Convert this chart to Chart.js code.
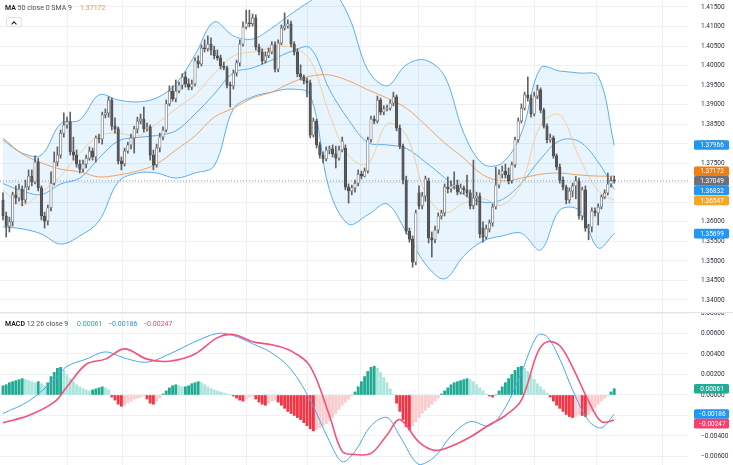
<!DOCTYPE html>
<html><head><meta charset="utf-8">
<script src="https://cdn.jsdelivr.net/npm/chart.js@4.4.1/dist/chart.umd.min.js"></script>
<style>
html,body{margin:0;padding:0;background:#fff;}
#wrap{position:relative;width:733px;height:465px;overflow:hidden;font-family:Roboto,"Open Sans",sans-serif;}
canvas{position:absolute;left:0;}
#c1{top:0;}
#c2{top:313px;}
#sep{position:absolute;left:0;top:312px;width:733px;height:1px;background:#e0e3eb;}
.leg{position:absolute;font-size:7px;line-height:9px;white-space:nowrap;color:#131722;}
.g{color:#4a4e59;}
#btn{position:absolute;left:6px;top:17px;width:14px;height:8px;border:1px solid #e0e3eb;border-radius:2px;background:#fff;}
#btn i{position:absolute;left:5px;top:3.5px;width:3px;height:3px;border-left:1px solid #131722;border-top:1px solid #131722;transform:rotate(45deg);}
</style></head>
<body><div id="wrap">
<canvas id="c1" width="733" height="313"></canvas>
<canvas id="c2" width="733" height="152"></canvas>
<div id="sep"></div>
<div class="leg" style="left:5px;top:3.5px;"><b style="font-weight:600">MA</b> <span class="g">50 close 0 SMA 9</span></div>
<div class="leg" style="left:80px;top:3.5px;color:#f59a2f;">1.37172</div>
<div id="btn"><i></i></div>
<div class="leg" style="left:5px;top:319.5px;"><b style="font-weight:600">MACD</b> <span class="g">12 26 close 9</span></div>
<div class="leg" style="left:77px;top:319.5px;color:#22ab94;">0.00061</div>
<div class="leg" style="left:108px;top:319.5px;color:#2196f3;">−0.00186</div>
<div class="leg" style="left:143px;top:319.5px;color:#f7406e;">−0.00247</div>
</div>
<script>
// ---------- candles (192 bars) ----------
const open = [1.3656,1.3615,1.3589,1.3600,1.3669,1.3661,1.3684,1.3656,1.3689,1.3717,
1.3702,1.3753,1.3687,1.3615,1.3602,1.3636,1.3699,1.3753,1.3771,1.3827,
1.3848,1.3856,1.3779,1.3771,1.3748,1.3735,1.3748,1.3763,1.3781,1.3766,
1.3815,1.3812,1.3874,1.3879,1.3912,1.3845,1.3838,1.3756,1.3748,1.3781,
1.3797,1.3815,1.3838,1.3858,1.3863,1.3838,1.3843,1.3771,1.3746,1.3789,
1.3817,1.3835,1.3902,1.3935,1.3915,1.3935,1.3950,1.3971,1.3953,1.3945,
1.3953,1.4012,1.4004,1.4045,1.4043,1.4055,1.4040,1.4025,1.4020,1.3999,
1.3994,1.3950,1.3948,1.3981,1.4007,1.4055,1.4099,1.4109,1.4107,1.4122,
1.4048,1.4035,1.4012,1.4025,1.4035,1.4053,1.3991,1.4058,1.4096,1.4101,
1.4107,1.4055,1.4035,1.3979,1.3971,1.3961,1.3956,1.3822,1.3858,1.3797,
1.3771,1.3761,1.3784,1.3787,1.3774,1.3763,1.3784,1.3789,1.3689,1.3679,
1.3687,1.3699,1.3722,1.3717,1.3730,1.3810,1.3863,1.3858,1.3912,1.3881,
1.3889,1.3891,1.3904,1.3920,1.3840,1.3794,1.3707,1.3576,1.3556,1.3497,
1.3674,1.3641,1.3666,1.3705,1.3559,1.3554,1.3579,1.3615,1.3623,1.3689,
1.3684,1.3692,1.3694,1.3676,1.3687,1.3682,1.3674,1.3641,1.3661,1.3666,
1.3584,1.3561,1.3582,1.3597,1.3638,1.3694,1.3722,1.3730,1.3720,1.3705,
1.3746,1.3810,1.3858,1.3891,1.3925,1.3917,1.3876,1.3922,1.3938,1.3886,
1.3845,1.3810,1.3815,1.3769,1.3740,1.3707,1.3689,1.3656,1.3679,1.3692,
1.3705,1.3615,1.3682,1.3584,1.3587,1.3628,1.3623,1.3638,1.3664,1.3674,1.3697,1.3705];
const close = [1.3615,1.3589,1.3600,1.3669,1.3661,1.3684,1.3656,1.3689,1.3717,1.3702,
1.3753,1.3687,1.3615,1.3602,1.3636,1.3699,1.3753,1.3771,1.3827,1.3848,
1.3856,1.3779,1.3771,1.3748,1.3735,1.3748,1.3763,1.3781,1.3766,1.3815,
1.3812,1.3874,1.3879,1.3912,1.3845,1.3838,1.3756,1.3748,1.3781,1.3797,
1.3815,1.3838,1.3858,1.3863,1.3838,1.3843,1.3771,1.3746,1.3789,1.3817,
1.3835,1.3902,1.3935,1.3915,1.3935,1.3950,1.3971,1.3953,1.3945,1.3953,
1.4012,1.4004,1.4045,1.4043,1.4055,1.4040,1.4025,1.4020,1.3999,1.3994,
1.3950,1.3948,1.3981,1.4007,1.4055,1.4099,1.4109,1.4107,1.4122,1.4048,
1.4035,1.4012,1.4025,1.4035,1.4053,1.3991,1.4058,1.4096,1.4101,1.4107,
1.4055,1.4035,1.3979,1.3971,1.3961,1.3956,1.3822,1.3858,1.3797,1.3771,
1.3761,1.3784,1.3787,1.3774,1.3763,1.3784,1.3807,1.3689,1.3679,1.3687,
1.3699,1.3722,1.3717,1.3730,1.3810,1.3863,1.3858,1.3912,1.3881,1.3889,
1.3891,1.3904,1.3920,1.3840,1.3794,1.3707,1.3576,1.3556,1.3497,1.3623,
1.3641,1.3666,1.3710,1.3559,1.3554,1.3579,1.3615,1.3623,1.3689,1.3684,
1.3692,1.3694,1.3676,1.3687,1.3682,1.3674,1.3641,1.3661,1.3666,1.3569,
1.3561,1.3582,1.3597,1.3638,1.3694,1.3722,1.3730,1.3720,1.3705,1.3746,
1.3810,1.3858,1.3891,1.3925,1.3917,1.3876,1.3922,1.3938,1.3886,1.3845,
1.3810,1.3815,1.3769,1.3740,1.3707,1.3689,1.3656,1.3679,1.3692,1.3705,
1.3615,1.3682,1.3584,1.3587,1.3628,1.3623,1.3638,1.3664,1.3674,1.3697,1.3705,1.37049];
const high = [1.3674,1.3625,1.3612,1.3676,1.3692,1.3697,1.3692,1.3707,1.3733,1.3733,
1.3769,1.3763,1.3692,1.3625,1.3643,1.3728,1.3779,1.3792,1.3835,1.3879,
1.3868,1.3881,1.3817,1.3784,1.3758,1.3758,1.3771,1.3792,1.3789,1.3820,
1.3825,1.3881,1.3889,1.3920,1.3917,1.3866,1.3843,1.3766,1.3789,1.3804,
1.3825,1.3845,1.3868,1.3876,1.3894,1.3853,1.3848,1.3784,1.3799,1.3827,
1.3843,1.3912,1.3948,1.3948,1.3963,1.3958,1.3979,1.3984,1.3966,1.3963,
1.4020,1.4025,1.4053,1.4066,1.4076,1.4071,1.4050,1.4040,1.4027,1.4009,
1.3999,1.3958,1.3989,1.4014,1.4066,1.4112,1.4142,1.4142,1.4132,1.4130,
1.4055,1.4043,1.4035,1.4045,1.4061,1.4061,1.4066,1.4104,1.4135,1.4117,
1.4114,1.4061,1.4043,1.4002,1.3976,1.3968,1.3963,1.3866,1.3863,1.3804,
1.3779,1.3792,1.3794,1.3797,1.3794,1.3794,1.3817,1.3797,1.3697,1.3694,
1.3707,1.3733,1.3730,1.3738,1.3817,1.3871,1.3871,1.3922,1.3917,1.3897,
1.3899,1.3912,1.3932,1.3925,1.3848,1.3799,1.3717,1.3584,1.3564,1.3630,
1.3692,1.3676,1.3717,1.3712,1.3574,1.3589,1.3623,1.3630,1.3697,1.3715,
1.3705,1.3728,1.3707,1.3697,1.3692,1.3720,1.3682,1.3758,1.3676,1.3674,
1.3600,1.3592,1.3605,1.3646,1.3740,1.3733,1.3743,1.3748,1.3738,1.3753,
1.3817,1.3866,1.3902,1.3932,1.3971,1.3925,1.3932,1.3950,1.3943,1.3891,
1.3851,1.3825,1.3820,1.3774,1.3748,1.3715,1.3694,1.3687,1.3699,1.3717,
1.3712,1.3689,1.3692,1.3594,1.3636,1.3636,1.3646,1.3669,1.3682,1.3725,1.3715,1.3717];
const low = [1.3605,1.3561,1.3574,1.3589,1.3646,1.3653,1.3641,1.3648,1.3682,1.3692,
1.3697,1.3679,1.3605,1.3584,1.3592,1.3628,1.3694,1.3743,1.3763,1.3817,
1.3840,1.3771,1.3758,1.3740,1.3725,1.3728,1.3738,1.3758,1.3758,1.3753,
1.3802,1.3799,1.3866,1.3868,1.3835,1.3827,1.3748,1.3733,1.3743,1.3776,
1.3787,1.3776,1.3827,1.3851,1.3830,1.3833,1.3758,1.3733,1.3740,1.3779,
1.3810,1.3830,1.3897,1.3909,1.3907,1.3930,1.3940,1.3945,1.3938,1.3938,
1.3948,1.3994,1.3999,1.4035,1.4037,1.4027,1.4017,1.4014,1.3991,1.3989,
1.3943,1.3894,1.3940,1.3973,1.3999,1.4050,1.4094,1.4099,1.4101,1.4040,
1.4027,1.4004,1.4007,1.4020,1.4030,1.3984,1.3984,1.4053,1.4091,1.4096,
1.4048,1.4027,1.3971,1.3963,1.3953,1.3920,1.3815,1.3817,1.3789,1.3763,
1.3751,1.3756,1.3774,1.3766,1.3738,1.3758,1.3779,1.3682,1.3648,1.3669,
1.3676,1.3692,1.3710,1.3715,1.3725,1.3804,1.3851,1.3853,1.3874,1.3874,
1.3884,1.3886,1.3897,1.3833,1.3787,1.3697,1.3569,1.3548,1.3484,1.3490,
1.3633,1.3633,1.3653,1.3546,1.3510,1.3546,1.3571,1.3607,1.3615,1.3674,
1.3676,1.3684,1.3669,1.3671,1.3671,1.3664,1.3633,1.3633,1.3643,1.3559,
1.3548,1.3556,1.3574,1.3589,1.3633,1.3687,1.3712,1.3712,1.3697,1.3699,
1.3740,1.3804,1.3853,1.3886,1.3909,1.3868,1.3871,1.3915,1.3879,1.3840,
1.3802,1.3804,1.3763,1.3733,1.3699,1.3682,1.3646,1.3648,1.3664,1.3659,
1.3607,1.3605,1.3576,1.3554,1.3574,1.3615,1.3592,1.3633,1.3659,1.3669,1.3689,1.3699];

// ---------- overlay lines, sampled at these bar indices ----------
const lineIdx = [0,6,12,18,24,30,36,42,48,54,60,66,72,78,84,90,96,102,108,114,120,126,132,138,144,150,156,162,168,174,180,186,191];
const bbUpper = [1.3810,1.3776,1.3771,1.3851,1.3861,1.3925,1.3912,1.3907,1.3917,1.3953,1.4027,1.4112,1.4076,1.4068,1.4096,1.4132,1.4165,1.4196,1.4127,1.3989,1.3948,1.4002,1.4014,1.3973,1.3827,1.3748,1.3751,1.3827,1.3994,1.3986,1.3981,1.3973,1.37966];
const bbBasis = [1.3698,1.3679,1.3670,1.3697,1.3712,1.3763,1.3807,1.3816,1.3821,1.3833,1.3876,1.3927,1.3982,1.3994,1.4014,1.4036,1.4045,1.3939,1.3861,1.3803,1.3797,1.3788,1.3753,1.3713,1.3670,1.3650,1.3657,1.3699,1.3761,1.3808,1.3806,1.3753,1.36832];
const bbLower = [1.3587,1.3582,1.3569,1.3543,1.3564,1.3602,1.3702,1.3725,1.3725,1.3712,1.3725,1.3743,1.3889,1.3920,1.3932,1.3940,1.3925,1.3682,1.3594,1.3618,1.3646,1.3574,1.3492,1.3454,1.3513,1.3551,1.3564,1.3571,1.3528,1.3630,1.3630,1.3533,1.35699];
const ma50 = [1.3815,1.3774,1.3751,1.3735,1.3728,1.3715,1.3720,1.3730,1.3748,1.3784,1.3820,1.3868,1.3891,1.3917,1.3932,1.3956,1.3973,1.3976,1.3961,1.3938,1.3917,1.3891,1.3848,1.3802,1.3763,1.3720,1.3705,1.3712,1.3722,1.3725,1.3720,1.3717,1.37172];
const maFast = [1.3682,1.3643,1.3676,1.3717,1.3776,1.3820,1.3827,1.3820,1.3851,1.3889,1.3925,1.3979,1.4025,1.4035,1.4045,1.4048,1.4014,1.3876,1.3769,1.3748,1.3851,1.3822,1.3674,1.3623,1.3648,1.3659,1.3643,1.3697,1.3848,1.3874,1.3766,1.3679,1.36547];

// ---------- MACD ----------
const hist = [0.0009,0.0010,0.0012,0.0013,0.0014,0.0015,
0.0016,0.0015,0.0014,0.0013,0.0012,0.0013,0.0011,
0.0009,0.0012,0.0018,0.0022,
0.0026,0.0027,0.0024,0.0020,
0.0016,0.0013,0.0010,0.0008,0.0006,0.0005,
0.0004,0.0005,0.0006,0.0007,0.0008,0.0007,0.0005,
-0.0002,-0.0005,-0.0009,-0.0011,-0.0010,-0.0008,-0.0006,
-0.0004,-0.0003,-0.0002,-0.0001,-0.0004,-0.0008,-0.0009,
-0.0006,-0.0003,0.0001,0.0004,0.0007,
0.0009,0.0010,0.0009,0.0008,0.0008,0.0009,0.0011,0.0012,
0.0013,0.0012,0.0010,0.0008,0.0006,0.0005,
0.0004,0.0003,0.0002,0.0001,0.0000,-0.0001,
-0.0003,-0.0005,-0.0006,-0.0004,-0.0002,-0.0001,
-0.0004,-0.0007,-0.0009,-0.0010,-0.0008,-0.0006,
-0.0005,-0.0007,-0.0010,-0.0013,-0.0016,-0.0018,
-0.0020,-0.0022,-0.0024,-0.0027,-0.0030,-0.0033,-0.0035,-0.0034,
-0.0032,-0.0030,-0.0028,-0.0025,-0.0022,-0.0018,-0.0014,
-0.0010,-0.0007,-0.0004,-0.0001,0.0003,
0.0008,0.0013,0.0018,0.0023,0.0027,0.0028,0.0026,0.0022,
0.0017,0.0012,0.0006,0.0000,-0.0008,
-0.0016,-0.0024,-0.0031,-0.0034,-0.0030,-0.0026,
-0.0022,-0.0018,-0.0015,-0.0012,-0.0009,-0.0006,-0.0003,
0.0001,0.0004,0.0007,0.0010,0.0012,0.0013,0.0014,0.0015,0.0016,
0.0015,0.0013,0.0010,0.0007,0.0004,
0.0001,-0.0001,-0.0002,0.0000,
0.0004,0.0008,0.0012,0.0016,0.0020,0.0024,
0.0027,0.0028,0.0026,0.0023,
0.0019,0.0015,0.0011,0.0008,0.0005,0.0002,
-0.0002,-0.0006,-0.0010,-0.0013,-0.0016,-0.0019,
-0.0021,-0.0022,-0.0021,-0.0019,-0.0020,
-0.0021,-0.0019,-0.0016,-0.0012,-0.0009,
-0.0006,-0.0003,-0.0001,0.0003,0.00061];
const macdIdx = [0,8,16,20,26,32,38,45,52,60,67,72,78,84,90,96,102,106,110,115,120,124,130,135,140,146,152,157,162,167,170,174,178,183,187,191];
const macdLine = [-0.0018,-0.0006,0.0015,0.0028,0.0035,0.0042,0.0036,0.0032,0.0040,0.0052,0.0060,0.0058,0.0050,0.0041,0.0025,-0.0005,-0.0045,-0.0065,-0.0055,-0.0030,-0.0022,-0.0040,-0.0068,-0.0060,-0.0040,-0.0026,-0.0030,-0.0012,0.0022,0.0058,0.0057,0.0035,0.0005,-0.0025,-0.0032,-0.00186];
const signalLine = [-0.0027,-0.0020,-0.0007,0.0008,0.0030,0.0035,0.0045,0.0035,0.0033,0.0040,0.0056,0.0059,0.0052,0.0049,0.0043,0.0028,-0.0020,-0.0055,-0.0058,-0.0057,-0.0039,-0.0024,-0.0046,-0.0054,-0.0050,-0.0041,-0.0029,-0.0020,-0.0005,0.0041,0.0052,0.0048,0.0027,-0.0006,-0.0026,-0.00247];

// ---------- axis ticks ----------
const priceTicks = [1.340,1.345,1.350,1.355,1.360,1.365,1.370,1.375,1.380,1.385,1.390,1.395,1.400,1.405,1.410,1.415];
const macdTicks = [-0.006,-0.004,-0.002,0,0.002,0.004,0.006,0.008];
const timeGrid = [20,37.3,57,76.2,95,111.6,129.7,147.5,166,185.6,206];

const last = close.length - 1;
const priceTags = [
  {v: bbUpper[bbUpper.length-1], c:'#2196f3'},
  {v: ma50[ma50.length-1], c:'#ef7d12'},
  {v: close[last], c:'#6d707b', anchor:true},
  {v: bbBasis[bbBasis.length-1], c:'#2196f3'},
  {v: maFast[maFast.length-1], c:'#f6a623'},
  {v: bbLower[bbLower.length-1], c:'#2196f3'}
];
const macdTags = [
  {v: hist[last], c:'#22ab94'},
  {v: macdLine[macdLine.length-1], c:'#2196f3', anchor:true},
  {v: signalLine[signalLine.length-1], c:'#f7406e'}
];

const FONT = 'Roboto, "Open Sans", sans-serif';
const XMIN = -0.94, XMAX = 214.06, AXW = 45;
const fmt = v => (v<0?'\u2212':'') + Math.abs(v).toFixed(5);

function tagPlugin(tags){
  return {id:'tags', afterDraw(chart){
    const ctx = chart.ctx, ys = chart.scales.y, h = 9.6;
    const items = tags.map(t=>({...t, py: ys.getPixelForValue(t.v)})).sort((a,b)=>a.py-b.py);
    let ai = items.findIndex(t=>t.anchor);
    for (let k=ai-1;k>=0;k--) if (items[k+1].py-items[k].py<h) items[k].py = items[k+1].py-h;
    for (let k=ai+1;k<items.length;k++) if (items[k].py-items[k-1].py<h) items[k].py = items[k-1].py+h;
    ctx.save();
    items.forEach(t=>{
      ctx.fillStyle = t.c;
      ctx.beginPath();
      ctx.roundRect(694, t.py-h/2, 35, h, 1.5);
      ctx.fill();
      ctx.fillStyle = '#fff';
      ctx.font = '6.5px '+FONT;
      ctx.textAlign = 'center'; ctx.textBaseline = 'middle';
      ctx.fillText(fmt(t.v), 712, t.py+0.5);
    });
    ctx.restore();
  }};
}

function xScale(){
  return {type:'linear', min:XMIN, max:XMAX, offset:false,
    grid:{color:'#eef0f4', drawTicks:false, offset:false, lineWidth:1},
    border:{display:false}, ticks:{display:false},
    afterBuildTicks: s => { s.ticks = timeGrid.map(v=>({value:v})); },
    afterFit: s => { s.height = 0; s.paddingLeft = 0; s.paddingRight = 0; s.paddingTop=0; s.paddingBottom=0; }};
}
function yScale(min,max,ticks,fmtf){
  return {type:'linear', position:'right', min, max,
    grid:{color:'#eef0f4', drawTicks:false, lineWidth:1},
    border:{display:false},
    ticks:{padding:13, color:'#2a2e39', font:{size:6.5, family:FONT}, callback: v => fmtf(v)},
    afterBuildTicks: s => { s.ticks = ticks.map(v=>({value:v})); },
    afterFit: s => { s.width = AXW; s.paddingTop = 0; s.paddingBottom = 0; }};
}

const pts = (idx, arr) => idx.map((i,k)=>({x:i, y:arr[k]}));
const up = close.map((c,i)=>c>=open[i]);

new Chart(document.getElementById('c1'), {
  type:'bar',
  data:{datasets:[
    {type:'bar', data: close.map((c,i)=>({x:i, y:[open[i], c]})), grouped:false, barThickness:2.5, minBarLength:1,
      backgroundColor: up.map(u=>u?'#ffffff':'#5b5b5b'), borderColor: up.map(u=>u?'#767676':'#4a4a4a'),
      borderWidth:0.8, borderSkipped:false, order:0},
    {type:'bar', data: close.map((c,i)=>({x:i, y:[low[i], high[i]]})), grouped:false, barThickness:1,
      backgroundColor:'#616161', order:1},
    {type:'line', data:[{x:XMIN, y:close[last]},{x:XMAX, y:close[last]}], borderColor:'#9598a1', borderWidth:1,
      borderDash:[1,2], pointRadius:0, order:2},
    {type:'line', data: pts(lineIdx, bbUpper), borderColor:'#5aaef2', borderWidth:1, pointRadius:0, tension:0.35,
      fill:4, backgroundColor:'rgba(33,150,243,0.10)', order:6},
    {type:'line', data: pts(lineIdx, bbLower), borderColor:'#5aaef2', borderWidth:1, pointRadius:0, tension:0.35, fill:false, order:5},
    {type:'line', data: pts(lineIdx, bbBasis), borderColor:'#5aaef2', borderWidth:1, pointRadius:0, tension:0.35, fill:false, order:5},
    {type:'line', data: pts(lineIdx, ma50), borderColor:'#f0a35e', borderWidth:1, pointRadius:0, tension:0.35, fill:false, order:3},
    {type:'line', data: pts(lineIdx, maFast), borderColor:'#f5cf95', borderWidth:1, pointRadius:0, tension:0.35, fill:false, order:3}
  ]},
  options:{responsive:false, animation:false, events:[], layout:{padding:0},
    plugins:{legend:{display:false}, tooltip:{enabled:false}},
    scales:{x:xScale(), y:yScale(1.33667, 1.41679, priceTicks, v=>v.toFixed(5))}},
  plugins:[tagPlugin(priceTags)]
});

const hcol = hist.map((h,i)=>{
  const p = i>0 ? hist[i-1] : h;
  if (h>=0) return h>=p ? '#22ab94' : '#ace5dc';
  return h<=p ? '#f23645' : '#fccbcd';
});
new Chart(document.getElementById('c2'), {
  type:'bar',
  data:{datasets:[
    {type:'bar', data: hist.map((h,i)=>({x:i, y:h})), grouped:false, barThickness:2.2, backgroundColor:hcol, order:3},
    {type:'line', data: pts(macdIdx, macdLine), borderColor:'#4aa6f2', borderWidth:1, pointRadius:0, tension:0.35, order:1},
    {type:'line', data: pts(macdIdx, signalLine), borderColor:'#f5517a', borderWidth:1.6, pointRadius:0, tension:0.35, order:0}
  ]},
  options:{responsive:false, animation:false, events:[], layout:{padding:0},
    plugins:{legend:{display:false}, tooltip:{enabled:false}},
    scales:{x:xScale(), y:yScale(-0.00683, 0.0080, macdTicks, v=>fmt(v))}},
  plugins:[tagPlugin(macdTags)]
});
</script>
</body></html>
